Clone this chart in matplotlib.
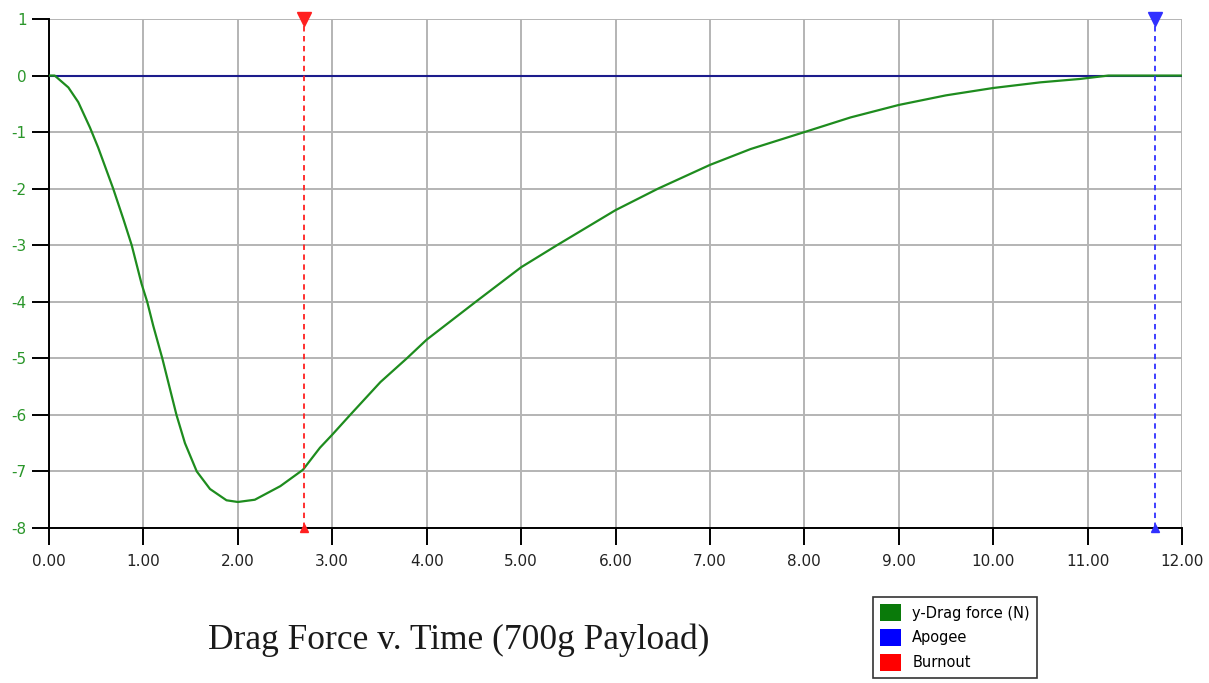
import numpy as np
import matplotlib
matplotlib.use("Agg")
import matplotlib.pyplot as plt
from matplotlib.patches import Patch

# --- Drag force samples (time in s, force in N) ---
time_s = [0.0, 0.06, 0.205, 0.31, 0.434, 0.52, 0.68, 0.79, 0.876, 0.98, 1.04,
          1.105, 1.20, 1.35, 1.44, 1.565, 1.705, 1.88, 2.00, 2.18, 2.45, 2.69,
          2.87, 3.00, 3.19, 3.51, 3.79, 4.00, 4.52, 5.00, 5.38, 6.00, 6.45,
          7.00, 7.43, 8.00, 8.49, 9.00, 9.50, 10.00, 10.50, 10.92, 11.22, 12.00]
drag_n = [0.0, 0.0, -0.21, -0.47, -0.92, -1.27, -2.00, -2.55, -3.00, -3.68, -4.00,
          -4.43, -5.00, -6.00, -6.50, -7.00, -7.31, -7.51, -7.54, -7.50, -7.26, -6.97,
          -6.58, -6.35, -6.00, -5.42, -5.00, -4.67, -4.00, -3.39, -3.00, -2.38, -2.00,
          -1.58, -1.30, -1.00, -0.74, -0.52, -0.35, -0.22, -0.12, -0.06, 0.0, 0.0]

burnout_t = 2.70
apogee_t = 11.71

x_ticks = [0, 1, 2, 3, 4, 5, 6, 7, 8, 9, 10, 11, 12]
y_ticks = [1, 0, -1, -2, -3, -4, -5, -6, -7, -8]
legend_labels = ["y-Drag force (N)", "Apogee", "Burnout"]
chart_title = "Drag Force v. Time (700g Payload)"


def main():
    fig = plt.figure(figsize=(12.09, 6.83), dpi=100)
    ax = fig.add_axes([49 / 1209, 1 - 528 / 683, (1182 - 49) / 1209, (528 - 19) / 683])

    ax.set_xlim(0, 12)
    ax.set_ylim(-8, 1)
    ax.set_xticks(x_ticks)
    ax.set_yticks(y_ticks)
    ax.set_xticklabels([f"{v:.2f}" for v in x_ticks])
    ax.set_yticklabels([str(v) for v in y_ticks])

    ax.grid(True, color="#b4b4b4", linewidth=1.4)
    ax.set_axisbelow(True)

    for side in ("top", "right"):
        ax.spines[side].set_visible(False)
    for side in ("left", "bottom"):
        ax.spines[side].set_color("black")
        ax.spines[side].set_linewidth(1.4)

    ax.tick_params(axis="y", length=12, width=1.4, colors="black",
                   labelcolor="#2a962a", labelsize=11, pad=4)
    ax.tick_params(axis="x", length=12, width=1.4, colors="black",
                   labelcolor="#222222", labelsize=11, pad=7)

    # zero line, then the drag curve over it
    ax.axhline(0, color="#1c1c8c", linewidth=1.5, zorder=3)
    ax.plot(time_s, drag_n, color="#1e8c1e", linewidth=1.6, zorder=4)

    # event markers
    for t, col in ((burnout_t, "#ff2020"), (apogee_t, "#3030ff")):
        ax.plot([t, t], [-8, 1], color=col, linewidth=1.3,
                linestyle=(0, (3, 2.5)), zorder=5)
        ax.plot([t], [1], marker="v", color=col, markersize=10,
                clip_on=False, zorder=6)
        ax.plot([t], [-8], marker="^", color=col, markersize=6,
                clip_on=False, zorder=6)

    fig.text(0.379, 0.063, chart_title, family="Liberation Serif",
             fontsize=25.5, ha="center", va="center", color="#1a1a1a")

    handles = [Patch(facecolor="#0a7a0a", edgecolor="none"),
               Patch(facecolor="#0000ff", edgecolor="none"),
               Patch(facecolor="#ff0000", edgecolor="none")]
    leg = fig.legend(handles, legend_labels, loc="upper left",
                     bbox_to_anchor=(873 / 1209, 1 - 597 / 683),
                     frameon=True, fancybox=False, fontsize=10.5,
                     handlelength=1.4, handleheight=1.4, handletextpad=0.8,
                     labelspacing=0.55, borderpad=0.5, borderaxespad=0)
    leg.get_frame().set_edgecolor("black")
    leg.get_frame().set_linewidth(1.2)

    fig.savefig("out.png", dpi=100)


if __name__ == "__main__":
    main()
